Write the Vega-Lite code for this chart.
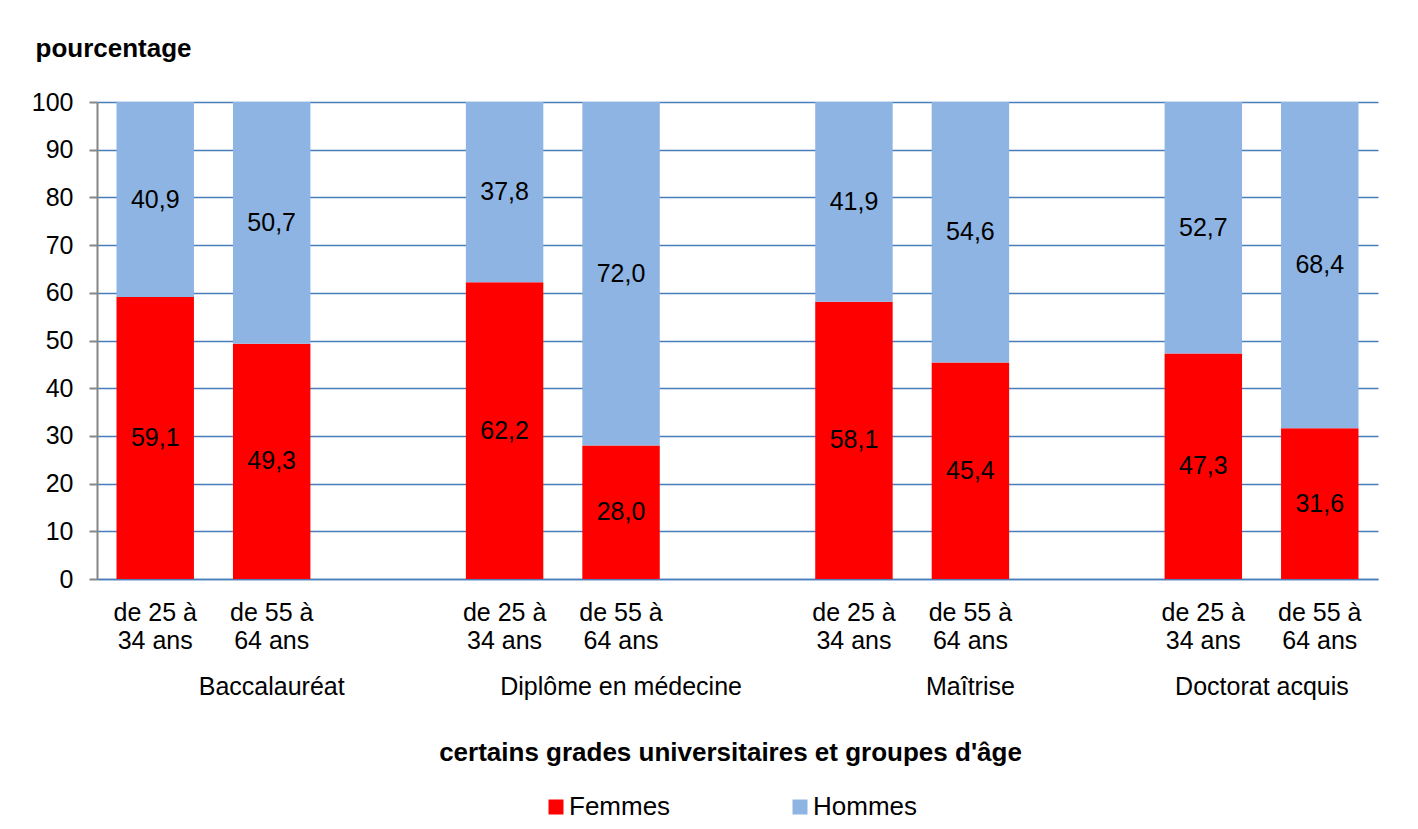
{
  "$schema": "https://vega.github.io/schema/vega-lite/v6.json",
  "width": 1281,
  "height": 477,
  "autosize": {"type": "none"},
  "padding": {"left": 97, "top": 102, "right": 40, "bottom": 250},
  "background": "white",
  "config": {
    "font": "Liberation Sans",
    "view": {"stroke": null},
    "locale": {"number": {"decimal": ",", "thousands": " ", "grouping": [3], "currency": ["", " €"]}},
    "axis": {"labelFont": "Liberation Sans", "titleFont": "Liberation Sans", "labelColor": "#000000", "titleColor": "#000000"},
    "legend": {"labelFont": "Liberation Sans", "labelColor": "#000000"}
  },
  "data": {
    "values": [
      {"grade": "Baccalauréat", "age": "de 25 à 34 ans", "sexe": "Femmes", "pct": 59.1},
      {"grade": "Baccalauréat", "age": "de 25 à 34 ans", "sexe": "Hommes", "pct": 40.9},
      {"grade": "Baccalauréat", "age": "de 55 à 64 ans", "sexe": "Femmes", "pct": 49.3},
      {"grade": "Baccalauréat", "age": "de 55 à 64 ans", "sexe": "Hommes", "pct": 50.7},
      {"grade": "Diplôme en médecine", "age": "de 25 à 34 ans", "sexe": "Femmes", "pct": 62.2},
      {"grade": "Diplôme en médecine", "age": "de 25 à 34 ans", "sexe": "Hommes", "pct": 37.8},
      {"grade": "Diplôme en médecine", "age": "de 55 à 64 ans", "sexe": "Femmes", "pct": 28.0},
      {"grade": "Diplôme en médecine", "age": "de 55 à 64 ans", "sexe": "Hommes", "pct": 72.0},
      {"grade": "Maîtrise", "age": "de 25 à 34 ans", "sexe": "Femmes", "pct": 58.1},
      {"grade": "Maîtrise", "age": "de 25 à 34 ans", "sexe": "Hommes", "pct": 41.9},
      {"grade": "Maîtrise", "age": "de 55 à 64 ans", "sexe": "Femmes", "pct": 45.4},
      {"grade": "Maîtrise", "age": "de 55 à 64 ans", "sexe": "Hommes", "pct": 54.6},
      {"grade": "Doctorat acquis", "age": "de 25 à 34 ans", "sexe": "Femmes", "pct": 47.3},
      {"grade": "Doctorat acquis", "age": "de 25 à 34 ans", "sexe": "Hommes", "pct": 52.7},
      {"grade": "Doctorat acquis", "age": "de 55 à 64 ans", "sexe": "Femmes", "pct": 31.6},
      {"grade": "Doctorat acquis", "age": "de 55 à 64 ans", "sexe": "Hommes", "pct": 68.4}
    ]
  },
  "transform": [{"calculate": "datum.grade + '|' + datum.age", "as": "cle"}],
  "encoding": {
    "x": {
      "field": "cle",
      "type": "nominal",
      "scale": {
        "domain": [
          "Baccalauréat|de 25 à 34 ans", "Baccalauréat|de 55 à 64 ans", "_1",
          "Diplôme en médecine|de 25 à 34 ans", "Diplôme en médecine|de 55 à 64 ans", "_2",
          "Maîtrise|de 25 à 34 ans", "Maîtrise|de 55 à 64 ans", "_3",
          "Doctorat acquis|de 25 à 34 ans", "Doctorat acquis|de 55 à 64 ans"
        ],
        "paddingInner": 0.335,
        "paddingOuter": 0.1675
      },
      "axis": {
        "title": "certains grades universitaires et groupes d'âge",
        "titleFontSize": 26,
        "titleFontWeight": "bold",
        "titleBaseline": "alphabetic",
        "titleX": 633,
        "titleY": 181,
        "labelExpr": "indexof(datum.value, '|') < 0 ? '' : [slice(datum.value, indexof(datum.value, '|') + 1, indexof(datum.value, '|') + 8), slice(datum.value, indexof(datum.value, '|') + 9)]",
        "labelAngle": 0,
        "labelFontSize": 25,
        "labelLineHeight": 28,
        "labelBaseline": "top",
        "labelPadding": 21,
        "labelOverlap": false,
        "ticks": false,
        "tickSize": 0,
        "grid": false,
        "domainColor": "#4A7EBB",
        "domainWidth": 1.5
      }
    }
  },
  "layer": [
    {
      "mark": {"type": "bar"},
      "encoding": {
        "y": {
          "field": "pct",
          "type": "quantitative",
          "scale": {"domain": [0, 100], "nice": false},
          "axis": {
            "title": "pourcentage",
            "titleAngle": 0,
            "titleAlign": "left",
            "titleBaseline": "alphabetic",
            "titleX": -62,
            "titleY": -46,
            "titleFontSize": 26,
            "titleFontWeight": "bold",
            "values": [0, 10, 20, 30, 40, 50, 60, 70, 80, 90, 100],
            "labelFontSize": 25,
            "labelPadding": 16,
            "tickSize": 8,
            "tickColor": "#868686",
            "tickWidth": 2,
            "domainColor": "#868686",
            "domainWidth": 2,
            "gridColor": "#4A7EBB",
            "gridWidth": 1.5
          }
        },
        "color": {
          "field": "sexe",
          "type": "nominal",
          "scale": {"domain": ["Femmes", "Hommes"], "range": ["#FF0000", "#8EB4E3"]},
          "legend": {
            "title": null,
            "orient": "none",
            "legendX": 446,
            "legendY": 692,
            "direction": "horizontal",
            "symbolType": "square",
            "symbolSize": 225,
            "symbolStrokeWidth": 0,
            "labelFontSize": 26,
            "labelOffset": 0,
            "columnPadding": 116,
            "padding": 0
          }
        },
        "order": {"field": "sexe", "sort": "ascending"}
      }
    },
    {
      "mark": {"type": "text", "fontSize": 25, "baseline": "middle", "color": "#000000"},
      "encoding": {
        "y": {"field": "pct", "type": "quantitative", "stack": "zero", "bandPosition": 0.5, "title": "pourcentage"},
        "detail": {"field": "sexe"},
        "order": {"field": "sexe", "sort": "ascending"},
        "text": {"field": "pct", "type": "quantitative", "format": ".1f"}
      }
    },
    {
      "transform": [{"filter": "datum.sexe == 'Femmes' && datum.age == 'de 55 à 64 ans' && datum.grade != 'Doctorat acquis'"}],
      "mark": {"type": "text", "fontSize": 25, "baseline": "alphabetic", "dy": 116, "color": "#000000"},
      "encoding": {
        "y": {"datum": 0, "type": "quantitative"},
        "text": {"field": "grade"}
      }
    },
    {
      "transform": [{"filter": "datum.sexe == 'Femmes' && datum.age == 'de 25 à 34 ans' && datum.grade == 'Doctorat acquis'"}],
      "mark": {"type": "text", "fontSize": 25, "baseline": "alphabetic", "dy": 116, "color": "#000000"},
      "encoding": {
        "x": {"field": "cle", "type": "nominal", "bandPosition": 1.257},
        "y": {"datum": 0, "type": "quantitative"},
        "text": {"field": "grade"}
      }
    }
  ]
}
